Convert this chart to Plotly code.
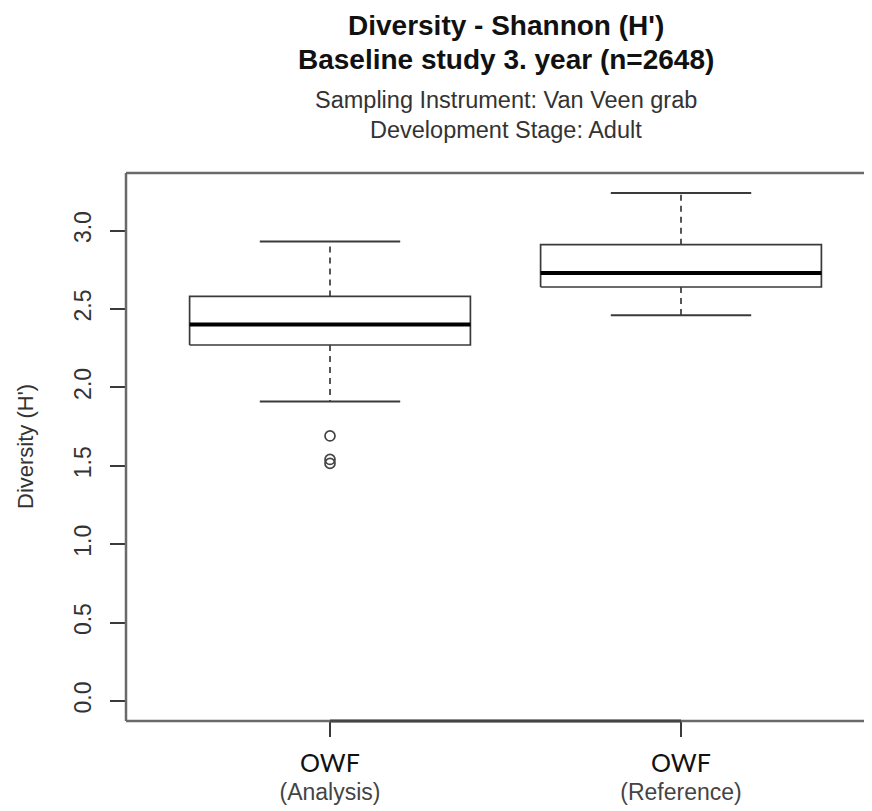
import plotly.graph_objects as go

# ---- data ----
group_labels = ["OWF", "OWF"]
group_sublabels = ["(Analysis)", "(Reference)"]
lower_whisker = [1.91, 2.46]
q1 = [2.27, 2.64]
median = [2.40, 2.73]
q3 = [2.58, 2.91]
upper_whisker = [2.93, 3.24]
outliers = [[1.69, 1.54, 1.515], []]
y_ticks = [0.0, 0.5, 1.0, 1.5, 2.0, 2.5, 3.0]

title_line1 = "Diversity - Shannon (H')"
title_line2 = "Baseline study 3. year (n=2648)"
sub_line1 = "Sampling Instrument: Van Veen grab"
sub_line2 = "Development Stage: Adult"
y_title = "Diversity (H')"

# ---- geometry / style ----
# the page body adds an 8px offset; work in window pixels and shift
OFF = 8
WIN_W, WIN_H = 872, 811
W, H = WIN_W - OFF, WIN_H - OFF
PLOT_L, PLOT_T, PLOT_B = 126, 173, 721          # window pixels
ML = PLOT_L - OFF
MT = PLOT_T - OFF
MB = WIN_H - PLOT_B
MR = 0
BOX_HALF = 0.4
CAP_HALF = 0.2
LINE_COL = "#3a3a3a"
FRAME_COL = "#6a6a6a"
positions = [i + 1 for i in range(len(q1))]

fig = go.Figure()

for i, c in enumerate(positions):
    # dashed whiskers
    fig.add_trace(go.Scatter(x=[c, c], y=[q3[i], upper_whisker[i]], mode="lines",
                             line=dict(color=LINE_COL, width=1.7, dash="6px,5px"),
                             hoverinfo="skip", showlegend=False))
    fig.add_trace(go.Scatter(x=[c, c], y=[q1[i], lower_whisker[i]], mode="lines",
                             line=dict(color=LINE_COL, width=1.7, dash="6px,5px"),
                             hoverinfo="skip", showlegend=False))
    # caps
    for v in (upper_whisker[i], lower_whisker[i]):
        fig.add_trace(go.Scatter(x=[c - CAP_HALF, c + CAP_HALF], y=[v, v], mode="lines",
                                 line=dict(color=LINE_COL, width=2),
                                 hoverinfo="skip", showlegend=False))
    # box
    fig.add_trace(go.Scatter(x=[c - BOX_HALF, c + BOX_HALF, c + BOX_HALF, c - BOX_HALF, c - BOX_HALF],
                             y=[q1[i], q1[i], q3[i], q3[i], q1[i]], mode="lines",
                             line=dict(color=LINE_COL, width=1.7),
                             hoverinfo="skip", showlegend=False))
    # median
    fig.add_trace(go.Scatter(x=[c - BOX_HALF, c + BOX_HALF], y=[median[i], median[i]], mode="lines",
                             line=dict(color="#000000", width=4),
                             hoverinfo="skip", showlegend=False))
    # outliers
    if outliers[i]:
        fig.add_trace(go.Scatter(x=[c] * len(outliers[i]), y=outliers[i], mode="markers",
                                 marker=dict(symbol="circle-open", size=10,
                                             line=dict(color="#444444", width=1.7),
                                             color="#444444"),
                                 hoverinfo="skip", showlegend=False))

tick_text = [
    f"<span style='font-family:Lato;font-size:25px;color:#111'>{a}</span><br>"
    f"<span style='font-family:Liberation Sans, Arial;font-size:23px;color:#444'>{b}</span>"
    for a, b in zip(group_labels, group_sublabels)
]

plot_w = W - ML - MR
plot_h = H - MT - MB
px_per_unit = 351.0
x_left = 1 - (330 - PLOT_L) / px_per_unit
x_right = x_left + plot_w / px_per_unit

fig.update_xaxes(range=[x_left, x_right], tickvals=positions, ticktext=tick_text,
                 ticks="outside", ticklen=15, tickwidth=1.7, tickcolor=LINE_COL,
                 ticklabelstandoff=10,
                 showgrid=False, zeroline=False, showline=False,
                 tickfont=dict(family="Lato", size=21, color="#111"))
fig.update_yaxes(range=[-0.128, 3.367], tickvals=y_ticks,
                 ticktext=[f"{v:.1f}" for v in y_ticks],
                 ticks="outside", ticklen=15, tickwidth=1.7, tickcolor=LINE_COL,
                 tickangle=-90, ticklabelstandoff=10,
                 showgrid=False, zeroline=False, showline=False,
                 tickfont=dict(family="Liberation Sans, Arial", size=23, color="#333"))

# frame (left, top, bottom; right edge is cut off in the reference)
frame = dict(type="line", xref="paper", yref="paper", line=dict(color=FRAME_COL, width=2.5))
fig.add_shape(**frame, x0=0, x1=0, y0=0, y1=1)
fig.add_shape(**frame, x0=0, x1=1, y0=1, y1=1)
fig.add_shape(**frame, x0=0, x1=1, y0=0, y1=0)
# axis segment between first and last category
fig.add_shape(type="line", xref="x", yref="paper", x0=positions[0], x1=positions[-1], y0=0, y1=0,
              line=dict(color="#444", width=3))


def py(p):
    """window pixel y -> paper y"""
    return (PLOT_B - p) / plot_h


def px(p):
    """window pixel x -> paper x"""
    return (p - PLOT_L) / plot_w


title_x = px(506)
annos = [
    dict(text=f"<b>{title_line1}</b>", y=py(25), font=dict(size=28, color="#111")),
    dict(text=f"<b>{title_line2}</b>", y=py(60), font=dict(size=28, color="#111")),
    dict(text=sub_line1, y=py(100), font=dict(size=23.5, color="#333")),
    dict(text=sub_line2, y=py(130), font=dict(size=23.5, color="#333")),
]
for a in annos:
    fig.add_annotation(xref="paper", yref="paper", x=title_x, xanchor="center", yanchor="middle",
                       showarrow=False, **a)
fig.add_annotation(xref="paper", yref="paper", x=px(25), y=py(447),
                   xanchor="center", yanchor="middle", textangle=-90, showarrow=False,
                   text=y_title, font=dict(size=22, color="#333"))

fig.update_layout(width=W, height=H, margin=dict(l=ML, r=MR, t=MT, b=MB),
                  paper_bgcolor="white", plot_bgcolor="white",
                  font=dict(family="Liberation Sans, Arial"), showlegend=False)

fig.write_html("out.html")
